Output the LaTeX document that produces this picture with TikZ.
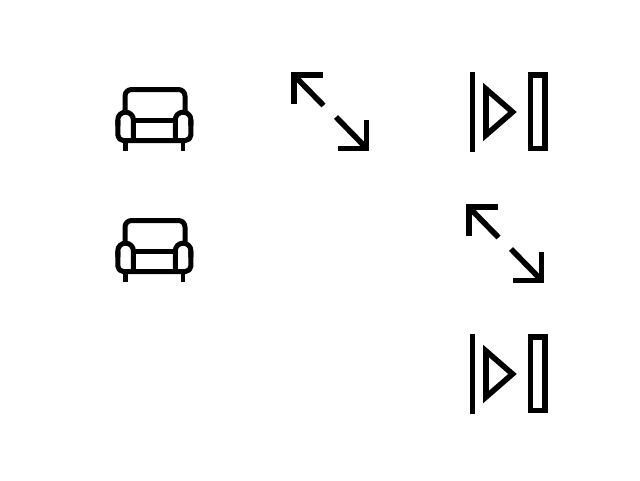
\documentclass[tikz,border=0pt]{standalone}
\tikzset{
  glyph/.style={line width=5.6pt,draw=black,line cap=butt,line join=miter},
  sofaline/.style={line width=5pt,draw=black,line cap=butt,line join=round},
  sofa/.pic={
    \draw[sofaline,rounded corners=6.5pt] (125,112) -- (125,89.5) -- (185,89.5) -- (185,112);
    \draw[sofaline,rounded corners=7.6pt] (133.4,141) -- (133.4,112.2) -- (117.8,112.2) -- (117.8,126);
    \draw[sofaline,rounded corners=7.6pt] (175.3,141) -- (175.3,112.2) -- (190.9,112.2) -- (190.9,126);
    \draw[sofaline,rounded corners=5.5pt] (117.8,120) -- (117.8,140.5) -- (190.9,140.5) -- (190.9,120);
    \draw[sofaline] (133,120) -- (175.5,120);
    \draw[sofaline,line width=4.6pt] (125.5,140) -- (125.5,151);
    \draw[sofaline,line width=4.6pt] (183,140) -- (183,151);
  },
  arrows2/.pic={
    \draw[glyph] (293.7,104) -- (293.7,75) -- (322.7,75);
    \draw[glyph] (293.7,75) -- (323.5,105.5);
    \draw[glyph] (336,117) -- (366.6,148.3);
    \draw[glyph] (366.6,120) -- (366.6,148.3) -- (338.3,148.3);
  },
  player/.pic={
    \draw[glyph] (472.5,72.3) -- (472.5,151.5);
    \draw[glyph] (486,89) -- (486,135) -- (512.5,112) -- cycle;
    \draw[glyph] (530.4,74.9) rectangle (544.7,148.6);
  }
}
\begin{document}
\begin{tikzpicture}[x=1pt,y=-1pt]
\useasboundingbox[fill=white] (0,0) rectangle (640,480);
\pic at (0,0) {sofa};
\pic at (0,131) {sofa};
\pic at (0,0) {arrows2};
\pic at (175,132) {arrows2};
\pic at (0,0) {player};
\pic at (0,262) {player};
\end{tikzpicture}
\end{document}
